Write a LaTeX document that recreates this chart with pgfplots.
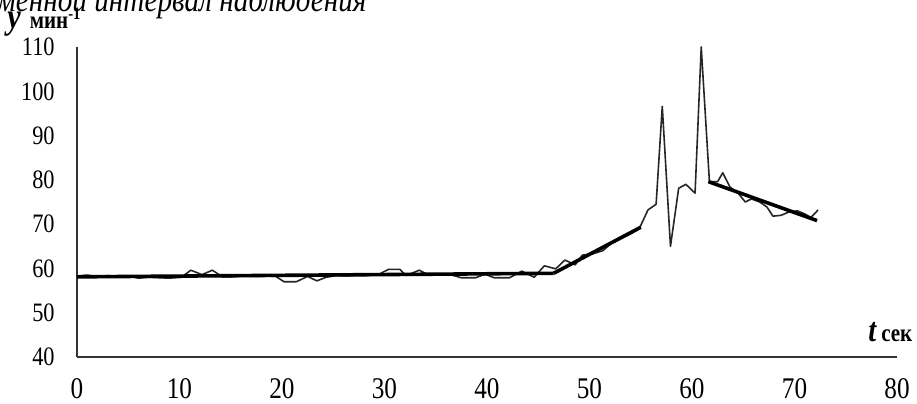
\documentclass[border=0pt]{standalone}
\usepackage{fontspec}
\setmainfont{Liberation Serif}[FakeStretch=0.84]
\usepackage{pgfplots}
\pgfplotsset{compat=1.18}
\begin{document}
\begin{tikzpicture}
\begin{axis}[
  scale only axis, width=410pt, height=155pt,
  xmin=0, xmax=80, ymin=40, ymax=110,
  xtick={0,10,...,80}, ytick={40,50,...,110},
  axis x line*=bottom, axis y line*=left,
  axis line style={-, black!80, line width=0.6pt},
  major tick length=0pt,
  /pgf/number format/assume math mode=true,
  tick label style={inner sep=0pt},
  xticklabel style={font=\fontsize{15}{16}\selectfont, yshift=-10.5pt},
  yticklabel style={font=\fontsize{13.3}{14}\selectfont, xshift=-11pt},
  clip=false,
]
% measured series
\addplot[black!85, line width=0.8pt, line join=round] coordinates {
(0.0,58.3)(1.0,58.5)(2.0,58.1)(3.0,58.4)(4.0,58.1)(5.0,58.3)(6.0,57.8)(7.0,58.0)
(8.0,57.9)(9.0,57.8)(10.2,58.0)(11.1,59.6)(12.2,58.6)(13.2,59.6)(14.2,58.1)(15.3,58.1)
(16.3,58.3)(17.4,58.2)(18.4,58.3)(19.4,58.2)(20.2,57.0)(21.4,57.0)(22.5,58.2)(23.4,57.2)
(24.3,58.0)(25.3,58.4)(26.3,58.3)(27.4,58.5)(28.4,58.4)(29.4,58.6)(30.4,59.8)(31.5,59.8)
(32.1,58.4)(33.4,59.6)(34.3,58.5)(35.3,58.7)(36.4,58.6)(37.5,57.9)(38.9,57.9)(39.8,58.7)
(40.7,57.9)(42.2,57.9)(43.4,59.4)(44.6,58.0)(45.6,60.6)(46.7,59.9)(47.6,61.9)(48.6,60.8)
(49.3,63.0)(50.3,63.3)(51.3,64.0)(52.2,65.8)(53.1,66.8)(54.0,67.8)(54.9,69.2)(55.7,73.2)
(56.5,74.5)(57.1,96.6)(57.9,65.0)(58.7,78.1)(59.4,79.0)(60.3,77.0)(60.9,110.0)(61.7,79.6)
(62.5,79.6)(63.0,81.6)(63.7,78.4)(64.5,77.0)(65.2,75.0)(65.8,75.7)(66.6,75.0)(67.3,73.9)
(67.9,71.8)(68.7,72.0)(69.5,72.8)(70.3,73.0)(71.0,72.3)(71.6,71.5)(72.3,73.2)
};
% trend segments
\addplot[black, line width=1.8pt] coordinates {(0,58.1)(46.5,58.9)};
\addplot[black, line width=1.8pt] coordinates {(46.5,58.9)(55.0,69.3)};
\addplot[black, line width=1.8pt] coordinates {(61.6,79.6)(72.2,70.8)};
\end{axis}
\node[anchor=base east, inner sep=0pt, font=\fontsize{17.4}{17.4}\selectfont\itshape] at (145pt,173pt) {Временной интервал наблюдения};
\node[anchor=base west, inner sep=0pt] at (-35pt,164.5pt) {{\fontsize{18}{18}\selectfont\bfseries\itshape y}\hspace{4.5pt}{\fontsize{12.5}{12.5}\selectfont\bfseries мин\textsuperscript{-1}}};
\node[anchor=base west, inner sep=0pt] at (395.5pt,8pt) {{\fontsize{17}{17}\selectfont\bfseries\itshape t}\hspace{2.5pt}{\fontsize{12.5}{12.5}\selectfont\bfseries сек}};
\pgfresetboundingbox
\path (-38.5pt,-23pt) rectangle (420pt,178.5pt);
\end{tikzpicture}
\end{document}
